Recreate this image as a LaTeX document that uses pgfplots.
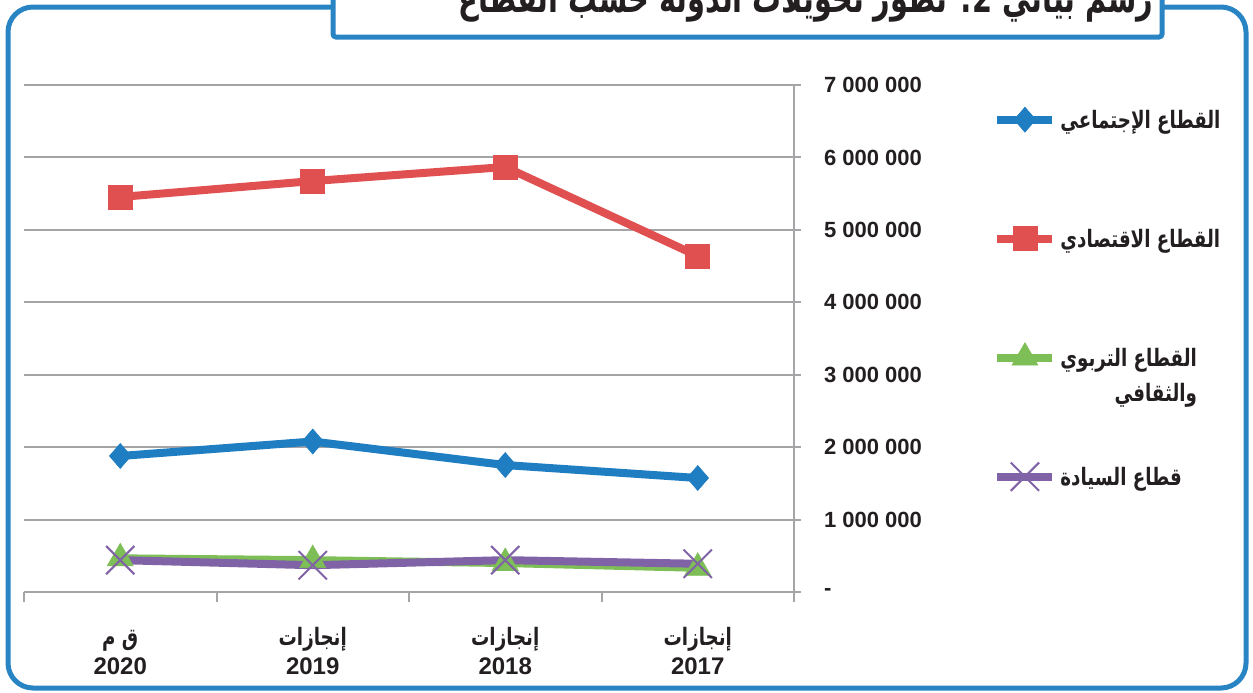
\documentclass[border=0pt]{standalone}
\usepackage{pgfplots}
\pgfplotsset{compat=1.18}
\usepackage{graphicx}
\usepackage{fontspec}
\setmainfont{Liberation Sans}
\newfontfamily\arabicfont[Script=Arabic]{DejaVu Sans}
\TeXXeTstate=1
\definecolor{frameblue}{RGB}{41,132,196}
\definecolor{sblue}{RGB}{31,125,193}
\definecolor{sred}{RGB}{224,80,80}
\definecolor{sgreen}{RGB}{126,190,86}
\definecolor{spurple}{RGB}{128,98,166}
\definecolor{axisgray}{RGB}{165,165,168}
\definecolor{txt}{RGB}{35,31,32}
\newcommand{\ar}[1]{\scalebox{0.76}[1]{\arabicfont\bfseries\beginR #1\endR}}
\newcommand{\lgbox}[1]{\raisebox{0pt}[10pt][8pt]{#1}}
\begin{document}
\begin{tikzpicture}
\path[use as bounding box] (0pt,0pt) rectangle (626.5pt,-346pt);
\begin{scope}
\clip (0pt,0pt) rectangle (626.5pt,-346pt);
\draw[frameblue, line width=2.5pt, rounded corners=12.5pt] (4pt,-3.5pt) rectangle (623pt,-344pt);
\draw[frameblue, fill=white, line width=2.5pt, rounded corners=1.5pt] (166.5pt,8pt) rectangle (581pt,-18.5pt);
\node[anchor=base, text=txt, font=\fontsize{20}{24}\selectfont, inner sep=0pt] at (403pt,-6pt) {\scalebox{0.72}[1]{\arabicfont\bfseries\beginR رسم بياني 2: تطور تحويلات الدولة حسب القطاع\endR}};
\end{scope}
\begin{axis}[
  at={(12pt,-296pt)}, anchor=south west,
  scale only axis, width=385pt, height=253.5pt,
  xmin=-0.5, xmax=3.5, ymin=0, ymax=7000000,
  axis x line*=bottom, axis y line*=right,
  axis line style={axisgray, line width=1pt},
  xtick={0,1,2,3},
  xticklabels={{\rule{0pt}{11pt}\ar{ق م}\\2020},{\rule{0pt}{11pt}\ar{إنجازات}\\2019},{\rule{0pt}{11pt}\ar{إنجازات}\\2018},{\rule{0pt}{11pt}\ar{إنجازات}\\2017}},
  every major x tick/.append style={draw=none},
  minor xtick={-0.5,0.5,1.5,2.5,3.5},
  minor tick style={axisgray, line width=1pt},
  minor tick length=5pt,
  ytick={0,1000000,2000000,3000000,4000000,5000000,6000000,7000000},
  yticklabels={-,1 000 000,2 000 000,3 000 000,4 000 000,5 000 000,6 000 000,7 000 000},
  major tick style={axisgray, line width=1pt},
  major tick length=3.5pt,
  tick align=outside,
  ymajorgrids, grid style={axisgray, line width=1pt},
  scaled y ticks=false,
  yticklabel style={font=\bfseries\fontsize{11}{13}\selectfont, text=txt, anchor=west, xshift=8pt},
  xticklabel style={align=center, font=\bfseries\fontsize{12}{14.5}\selectfont, text=txt, yshift=-8.5pt},
  clip=false,
  legend style={at={(1.2585,0.963)}, anchor=north west, draw=none, fill=none,
     font=\fontsize{12}{14.5}\selectfont, text=txt, inner sep=0pt, row sep=44pt,
     /tikz/every odd column/.append style={column sep=0pt}},
  legend cell align=left,
  legend image code/.code={\draw[mark repeat=2,mark phase=2,#1] plot coordinates {(0pt,0pt) (13.75pt,0pt) (27.5pt,0pt)};},
]
\addplot[sblue, line width=4pt, mark=diamond*, mark size=6.25pt, mark options={line width=0.3pt, xscale=1.15}]
  coordinates {(0,1878000) (1,2078000) (2,1753000) (3,1574000)};
\addlegendentry{\lgbox{\ar{القطاع الإجتماعي}}}
\addplot[sred, line width=4pt, mark=square*, mark size=6pt, mark options={line width=0.3pt}]
  coordinates {(0,5454000) (1,5674000) (2,5868000) (3,4639000)};
\addlegendentry{\lgbox{\ar{القطاع الاقتصادي}}}
\addplot[sgreen, line width=4pt, mark=triangle*, mark size=7.5pt, mark options={line width=0.3pt}]
  coordinates {(0,465000) (1,440000) (2,400000) (3,334000)};
\addlegendentry{\lgbox{\begin{tabular}[t]{@{}r@{}}\ar{القطاع التربوي}\\[3pt]\ar{والثقافي}\end{tabular}}}
\addplot[spurple, line width=4pt, mark=x, mark size=10pt, mark options={line width=1pt}]
  coordinates {(0,440000) (1,370000) (2,440000) (3,390000)};
\addlegendentry{\lgbox{\ar{قطاع السيادة}}}
\end{axis}
\end{tikzpicture}
\end{document}
